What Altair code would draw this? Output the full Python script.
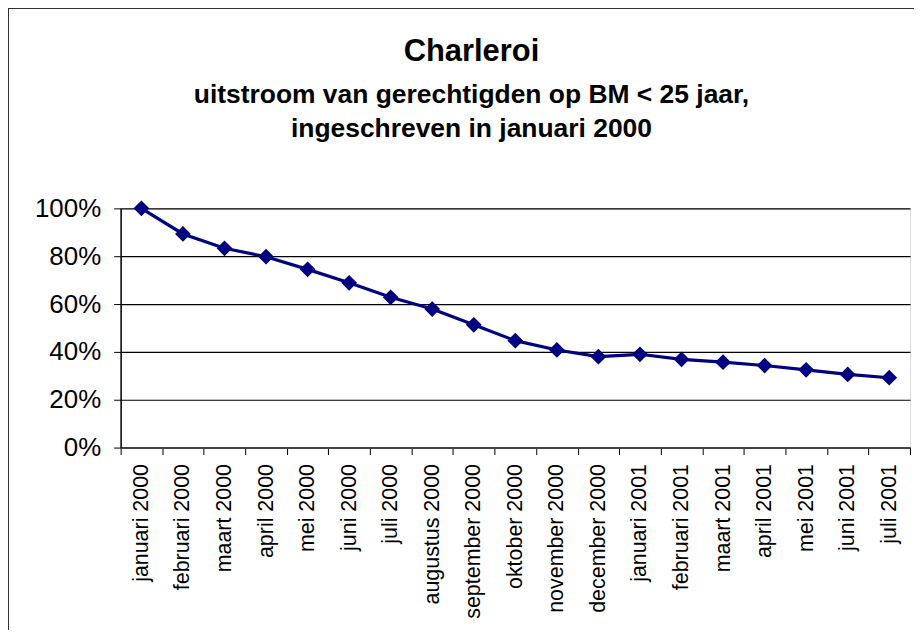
import altair as alt
import pandas as pd

months = ["januari 2000", "februari 2000", "maart 2000", "april 2000", "mei 2000",
          "juni 2000", "juli 2000", "augustus 2000", "september 2000", "oktober 2000",
          "november 2000", "december 2000", "januari 2001", "februari 2001", "maart 2001",
          "april 2001", "mei 2001", "juni 2001", "juli 2001"]
values = [1.00, 0.893, 0.833, 0.798, 0.745, 0.689, 0.628, 0.579, 0.513, 0.447,
          0.408, 0.380, 0.390, 0.369, 0.357, 0.343, 0.325, 0.306, 0.292]
title_lines = ["Charleroi", "uitstroom van gerechtigden op BM < 25 jaar,", "ingeschreven in januari 2000"]

df = pd.DataFrame({"maand": months, "aandeel": values})
FONT = "Liberation Sans"
W, H = 792, 240

x_enc = alt.X("maand:N", sort=months, title=None,
              scale=alt.Scale(paddingInner=0, paddingOuter=0),
              axis=alt.Axis(labelAngle=270, labelAlign="right", labelBaseline="middle",
                            labelFontSize=21.5, labelFont=FONT, labelColor="black",
                            labelPadding=9, tickSize=7, tickColor="black", tickBand="extent",
                            domainColor="#444", domainWidth=2, labelLimit=300, grid=False))
y_enc = alt.Y("aandeel:Q", title=None,
              scale=alt.Scale(domain=[0, 1]),
              axis=alt.Axis(values=[0, 0.2, 0.4, 0.6, 0.8, 1.0], format=".0%",
                            labelFontSize=26, labelFont=FONT, labelColor="black",
                            labelPadding=13, tickSize=7, tickColor="black",
                            domainColor="black", domainWidth=1.5,
                            grid=True, gridColor="black", gridWidth=1.2))

base = alt.Chart(df)
line = base.mark_line(color="#000080", strokeWidth=3.2).encode(x=x_enc, y=y_enc)
pts = base.mark_point(shape="diamond", filled=True, size=250, color="#000080", opacity=1).encode(
    x=alt.X("maand:N", sort=months), y="aandeel:Q")

frame = alt.Chart(pd.DataFrame({"k": [0]})).mark_rect(
    fill=None, stroke="#333", strokeWidth=2).encode(
    x=alt.value(-113), x2=alt.value(W + 40), y=alt.value(-201), y2=alt.value(H + 220))

tdf = pd.DataFrame({"t": title_lines, "i": [0, 1, 2]})
t0 = alt.Chart(tdf.iloc[[0]]).mark_text(font=FONT, fontWeight="bold", fontSize=31,
                                        align="center", baseline="alphabetic").encode(
    text="t:N", x=alt.value(352), y=alt.value(-148))
t1 = alt.Chart(tdf.iloc[[1]]).mark_text(font=FONT, fontWeight="bold", fontSize=26.5,
                                        align="center", baseline="alphabetic").encode(
    text="t:N", x=alt.value(352), y=alt.value(-106))
t2 = alt.Chart(tdf.iloc[[2]]).mark_text(font=FONT, fontWeight="bold", fontSize=26.5,
                                        align="center", baseline="alphabetic").encode(
    text="t:N", x=alt.value(352), y=alt.value(-72))

chart = alt.layer(frame, line, pts, t0, t1, t2).properties(
    width=W, height=H,
    autosize=alt.AutoSizeParams(type="none"),
    padding={"left": 113, "top": 200, "right": 4, "bottom": 182},
).configure_view(stroke="#666", strokeWidth=1.5).configure(background="white")

chart.save("out.html", embed_options={"renderer": "svg", "actions": False})
